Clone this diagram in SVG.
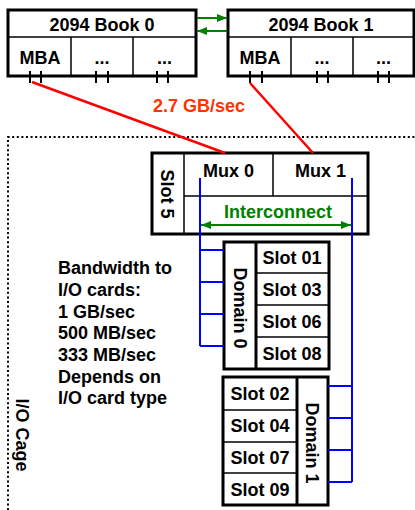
<svg xmlns="http://www.w3.org/2000/svg" width="415" height="510" viewBox="0 0 415 510">
<defs>
<marker id="ga" viewBox="0 0 10 8" refX="10" refY="4" markerWidth="10" markerHeight="8" markerUnits="userSpaceOnUse" orient="auto-start-reverse">
<path d="M0,0 L10,4 L0,8 z" fill="#008000"/>
</marker>
<style>
text{font-family:"Liberation Sans",Arial,sans-serif;font-weight:bold;font-size:18px;fill:#000}
.c{text-anchor:middle}
.outer{fill:#fff;stroke:#000;stroke-width:3}
.div{stroke:#000;stroke-width:1.5;fill:none}
.thick{stroke:#000;stroke-width:3;fill:none}
.tick{stroke:#000;stroke-width:2}
.red{stroke:#ff0000;stroke-width:2.5;fill:none}
.blue{stroke:#0000ff;stroke-width:2;fill:none}
.green{stroke:#008000;stroke-width:2;fill:none}
.dot{stroke:#000;stroke-width:2;stroke-dasharray:2 2.6;fill:none}
</style>
</defs>
<rect width="415" height="510" fill="#fff"/>

<g id="io-cage">
<path class="dot" d="M8,510 V137 H415"/>
<text class="c" transform="translate(16,435) rotate(90)">I/O Cage</text>
</g>

<g id="book0">
<rect class="outer" x="8" y="10" width="188" height="66"/>
<line class="div" x1="8" y1="37" x2="196" y2="37"/>
<line class="div" x1="71" y1="37" x2="71" y2="76"/>
<line class="div" x1="133" y1="37" x2="133" y2="76"/>
<text class="c" x="102" y="31">2094 Book 0</text>
<text class="c" x="40" y="64">MBA</text>
<text class="c" x="102" y="64">...</text>
<text class="c" x="164.5" y="64">...</text>
<path class="tick" d="M30,71 V83 M41,71 V83 M96,71 V83 M108,71 V83 M157,71 V83 M168,71 V83"/>
</g>

<g id="book1">
<rect class="outer" x="228" y="10" width="186" height="66"/>
<line class="div" x1="228" y1="37" x2="414" y2="37"/>
<line class="div" x1="291" y1="37" x2="291" y2="76"/>
<line class="div" x1="353" y1="37" x2="353" y2="76"/>
<text class="c" x="321" y="31">2094 Book 1</text>
<text class="c" x="260" y="64">MBA</text>
<text class="c" x="322" y="64">...</text>
<text class="c" x="383.5" y="64">...</text>
<path class="tick" d="M250,71 V83 M262,71 V83 M317,71 V83 M328,71 V83 M378,71 V83 M389,71 V83"/>
</g>

<g id="slot5">
<rect class="outer" x="152" y="153" width="216" height="81"/>
<line class="div" x1="184" y1="153" x2="184" y2="234"/>
<line class="div" x1="184" y1="196" x2="368" y2="196"/>
<line class="div" x1="273" y1="153" x2="273" y2="196"/>
<text class="c" transform="translate(161,194) rotate(90)">Slot 5</text>
<text class="c" x="228.5" y="177">Mux 0</text>
<text class="c" x="320.5" y="177">Mux 1</text>
<text class="c" x="278" y="218" style="fill:#008000">Interconnect</text>
</g>

<g id="domain0">
<rect class="outer" x="224" y="242" width="105" height="127"/>
<line class="thick" x1="256" y1="242" x2="256" y2="369"/>
<line class="div" x1="256" y1="273" x2="329" y2="273"/>
<line class="div" x1="256" y1="305" x2="329" y2="305"/>
<line class="div" x1="256" y1="337" x2="329" y2="337"/>
<text class="c" transform="translate(234,308) rotate(90)">Domain 0</text>
<text class="c" x="292" y="264">Slot 01</text>
<text class="c" x="292" y="296">Slot 03</text>
<text class="c" x="292" y="328">Slot 06</text>
<text class="c" x="292" y="360">Slot 08</text>
</g>

<g id="domain1">
<rect class="outer" x="223" y="377" width="105" height="128"/>
<line class="thick" x1="297" y1="377" x2="297" y2="505"/>
<line class="div" x1="223" y1="410" x2="297" y2="410"/>
<line class="div" x1="223" y1="442" x2="297" y2="442"/>
<line class="div" x1="223" y1="473" x2="297" y2="473"/>
<text class="c" transform="translate(306,443) rotate(90)">Domain 1</text>
<text class="c" x="260" y="400">Slot 02</text>
<text class="c" x="260" y="432">Slot 04</text>
<text class="c" x="260" y="464">Slot 07</text>
<text class="c" x="260" y="496">Slot 09</text>
</g>

<g id="bandwidth-note">
<text x="58" y="274">Bandwidth to</text>
<text x="58" y="296">I/O cards:</text>
<text x="58" y="318">1 GB/sec</text>
<text x="58" y="339">500 MB/sec</text>
<text x="58" y="361">333 MB/sec</text>
<text x="58" y="383">Depends on</text>
<text x="58" y="404">I/O card type</text>
</g>

<g id="connectors">
<line class="green" x1="197" y1="18" x2="227" y2="18" marker-end="url(#ga)"/>
<line class="green" x1="227" y1="31" x2="197" y2="31" marker-end="url(#ga)"/>
<line class="red" x1="32" y1="82" x2="225" y2="153"/>
<line class="red" x1="250" y1="83" x2="313" y2="153"/>
<text class="c" x="199" y="112" style="fill:#ff3300">2.7 GB/sec</text>
<line class="green" x1="201" y1="225" x2="351" y2="225" marker-start="url(#ga)" marker-end="url(#ga)"/>
<path class="blue" d="M200,178 V346 M200,250 H224 M200,282 H224 M200,314 H224 M200,346 H224"/>
<path class="blue" d="M352,178 V482 M328,386 H352 M328,418 H352 M328,450 H352 M328,482 H352"/>
</g>
</svg>
